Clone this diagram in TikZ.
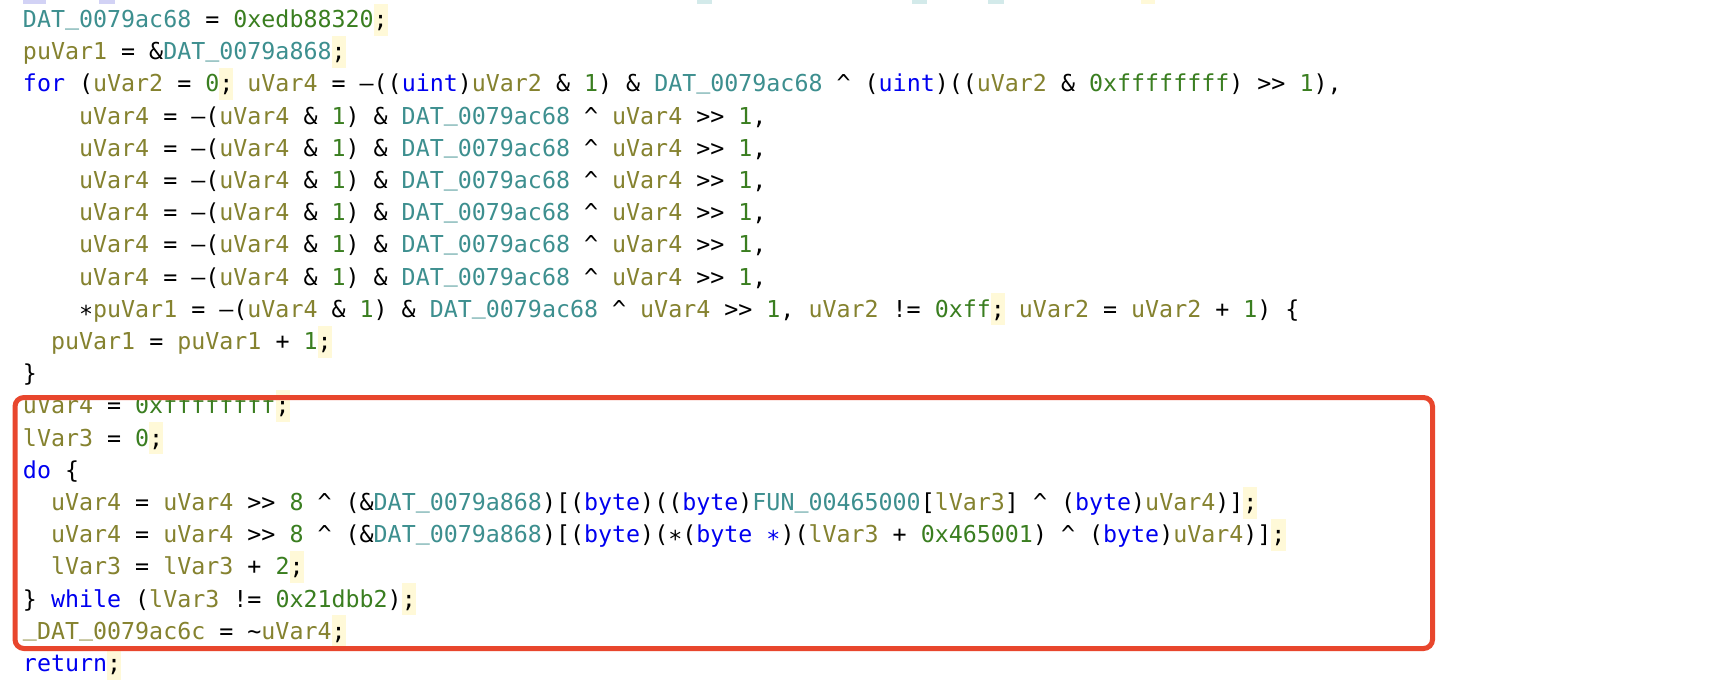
\documentclass[tikz,border=0pt]{standalone}
\usepackage{fontspec}
\newfontfamily\codefont{DejaVu Sans Mono}
\definecolor{kwc}{HTML}{0000F0}
\definecolor{gvc}{HTML}{3D8F8F}
\definecolor{lvc}{HTML}{85822F}
\definecolor{cnc}{HTML}{3A7E20}
\definecolor{hlc}{HTML}{FFF9D8}
\definecolor{boxred}{HTML}{E8462D}
\definecolor{fadeb}{HTML}{D2D2F5}
\definecolor{fadet}{HTML}{D3EAEA}
\newcommand\kw[1]{\textcolor{kwc}{#1}}
\newcommand\gv[1]{\textcolor{gvc}{#1}}
\newcommand\lv[1]{\textcolor{lvc}{#1}}
\newcommand\cn[1]{\textcolor{cnc}{#1}}
\newcommand\xr{\textasciicircum}
\newcommand\us{\raisebox{3.5pt}{\_}}
\newcommand\st{\raisebox{-5pt}{*}}
\newcommand\mn{\textendash}
\newcommand\hsemi{\rlap{\textcolor{hlc}{\rule[-8pt]{14.03pt}{32pt}}};}
\begin{document}
\begin{tikzpicture}[x=1pt,y=-1pt,
  codeline/.style={inner sep=0pt,outer sep=0pt,anchor=base west,
    font=\codefont\fontsize{23.3}{32.2}\selectfont}]
\useasboundingbox (0,0) rectangle (1712,680);
\fill[white] (0,0) rectangle (1712,680);
% faded remains of the line above
\fill[fadeb] (23,0) rectangle (46,4);
\fill[fadeb] (99,0) rectangle (115,4);
\fill[fadet] (697,0) rectangle (712,4);
\fill[fadet] (912,0) rectangle (927,4);
\fill[fadet] (988,0) rectangle (1004,4);
\fill[hlc] (1141,0) rectangle (1155,4);
\node[codeline] (l1) at (23,27.5) {\gv{DAT\us0079ac68} = \cn{0xedb88320}\hsemi};
\node[codeline] (l2) at (23,59.7) {\lv{puVar1} = \&\gv{DAT\us0079a868}\hsemi};
\node[codeline] (l3) at (23,91.9) {\kw{for} (\lv{uVar2} = \cn{0}\hsemi{} \lv{uVar4} = \mn((\kw{uint})\lv{uVar2} \& \cn{1}) \& \gv{DAT\us0079ac68} \xr{} (\kw{uint})((\lv{uVar2} \& \cn{0xffffffff}) >> \cn{1}),};
\node[codeline] (l4) at (79.1,124.1) {\lv{uVar4} = \mn(\lv{uVar4} \& \cn{1}) \& \gv{DAT\us0079ac68} \xr{} \lv{uVar4} >> \cn{1},};
\node[codeline] (l5) at (79.1,156.3) {\lv{uVar4} = \mn(\lv{uVar4} \& \cn{1}) \& \gv{DAT\us0079ac68} \xr{} \lv{uVar4} >> \cn{1},};
\node[codeline] (l6) at (79.1,188.5) {\lv{uVar4} = \mn(\lv{uVar4} \& \cn{1}) \& \gv{DAT\us0079ac68} \xr{} \lv{uVar4} >> \cn{1},};
\node[codeline] (l7) at (79.1,220.7) {\lv{uVar4} = \mn(\lv{uVar4} \& \cn{1}) \& \gv{DAT\us0079ac68} \xr{} \lv{uVar4} >> \cn{1},};
\node[codeline] (l8) at (79.1,252.9) {\lv{uVar4} = \mn(\lv{uVar4} \& \cn{1}) \& \gv{DAT\us0079ac68} \xr{} \lv{uVar4} >> \cn{1},};
\node[codeline] (l9) at (79.1,285.1) {\lv{uVar4} = \mn(\lv{uVar4} \& \cn{1}) \& \gv{DAT\us0079ac68} \xr{} \lv{uVar4} >> \cn{1},};
\node[codeline] (l10) at (79.1,317.3) {\st\lv{puVar1} = \mn(\lv{uVar4} \& \cn{1}) \& \gv{DAT\us0079ac68} \xr{} \lv{uVar4} >> \cn{1}, \lv{uVar2} != \cn{0xff}\hsemi{} \lv{uVar2} = \lv{uVar2} + \cn{1}) \{};
\node[codeline] (l11) at (51.06,349.5) {\lv{puVar1} = \lv{puVar1} + \cn{1}\hsemi};
\node[codeline] (l12) at (23,381.7) {\}};
\node[codeline] (l13) at (23,413.9) {\lv{uVar4} = \cn{0xffffffff}\hsemi};
\node[codeline] (l14) at (23,446.1) {\lv{lVar3} = \cn{0}\hsemi};
\node[codeline] (l15) at (23,478.3) {\kw{do} \{};
\node[codeline] (l16) at (51.06,510.5) {\lv{uVar4} = \lv{uVar4} >> \cn{8} \xr{} (\&\gv{DAT\us0079a868})[(\kw{byte})((\kw{byte})\gv{FUN\us00465000}[\lv{lVar3}] \xr{} (\kw{byte})\lv{uVar4})]\hsemi};
\node[codeline] (l17) at (51.06,542.7) {\lv{uVar4} = \lv{uVar4} >> \cn{8} \xr{} (\&\gv{DAT\us0079a868})[(\kw{byte})(\st(\kw{byte \st})(\lv{lVar3} + \cn{0x465001}) \xr{} (\kw{byte})\lv{uVar4})]\hsemi};
\node[codeline] (l18) at (51.06,574.9) {\lv{lVar3} = \lv{lVar3} + \cn{2}\hsemi};
\node[codeline] (l19) at (23,607.1) {\} \kw{while} (\lv{lVar3} != \cn{0x21dbb2})\hsemi};
\node[codeline] (l20) at (23,639.3) {\lv{\us DAT\us0079ac6c} = \textasciitilde\lv{uVar4}\hsemi};
\node[codeline] (l21) at (23,671.5) {\kw{return}\hsemi};
% highlight frame
\node[draw=boxred, line width=5pt, rounded corners=9pt, inner sep=0pt,
  minimum width=1417.5pt, minimum height=251pt, anchor=north west]
  (frame) at (12.5,395) {};
\end{tikzpicture}
\end{document}
